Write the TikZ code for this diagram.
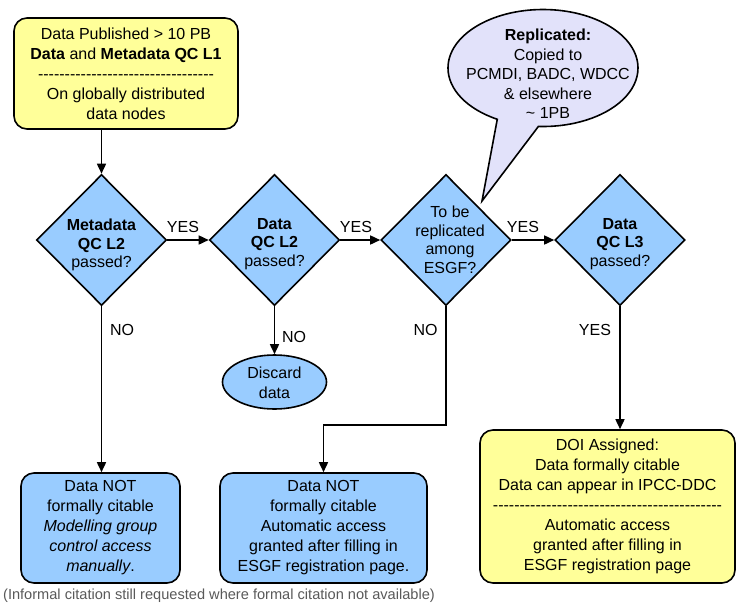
\documentclass[tikz,border=0pt]{standalone}
\usepackage{fontspec}
\setmainfont{Liberation Sans}
\usetikzlibrary{shapes.geometric,shapes.callouts,arrows.meta}
\definecolor{boxyellow}{HTML}{FFFF99}
\definecolor{boxblue}{HTML}{99CCFF}
\definecolor{lav}{HTML}{E2E2FA}
\newcommand\hyrow[1]{\foreach \i in {1,...,#1}{-\kern0pt}}
\begin{document}
\begin{tikzpicture}[x=1pt,y=-1pt,
  txt/.style={align=center,font=\fontsize{16}{20}\selectfont,inner sep=0pt},
  dtxt/.style={align=center,font=\fontsize{16}{18.5}\selectfont,inner sep=0pt},
  ybox/.style={draw,line width=1.6pt,rounded corners=13pt,fill=boxyellow},
  bbox/.style={draw,line width=1.6pt,rounded corners=13pt,fill=boxblue},
  dia/.style={draw,line width=1.6pt,diamond,fill=boxblue,minimum width=130pt,minimum height=131pt,inner sep=0pt},
  conn/.style={line width=1.6pt,-{Triangle[length=10pt,width=9pt]}},
  lab/.style={font=\fontsize{16}{20}\selectfont,inner sep=0pt}
]
\useasboundingbox (0,0) rectangle (737,603);

% top box
\node[ybox,txt,minimum width=224pt,minimum height=111pt] (top) at (126,73.5)
  {Data Published > 10 PB\\\textbf{Data} and \textbf{Metadata QC L1}\\\hyrow{33}\\On globally distributed\\data nodes};

% callout
\coordinate (tip) at (482,201);
\node[ellipse callout,draw,line width=1.6pt,fill=lav,minimum width=190pt,minimum height=117pt,
  inner sep=0pt,callout absolute pointer=(tip),callout pointer arc=26] (rep) at (543,68) {};
\node[txt,font=\fontsize{16}{19.5}\selectfont] (reptxt) at (548,74)
  {\textbf{Replicated:}\\Copied to\\PCMDI, BADC, WDCC\\\& elsewhere\\\textasciitilde\ 1PB};

% diamonds
\node[dia] (d1) at (101.5,240) {};
\node[dtxt] (t1) at (101.5,245) {\textbf{Metadata}\\\textbf{QC L2}\\passed?};
\node[dia] (d2) at (274.5,240) {};
\node[dtxt] (t2) at (274.5,244) {\textbf{Data}\\\textbf{QC L2}\\passed?};
\node[dia] (d3) at (446,240) {};
\node[dtxt] (t3) at (450,240) {To be\\replicated\\among\\ESGF?};
\node[dia] (d4) at (620,240) {};
\node[dtxt] (t4) at (620,244) {\textbf{Data}\\\textbf{QC L3}\\passed?};

% discard
\node[draw,ellipse,line width=1.6pt,fill=boxblue,minimum width=104pt,minimum height=54pt,inner sep=0pt] (disc) at (274.5,382) {};
\node[txt] (disctxt) at (274.5,383) {Discard\\data};

% bottom boxes
\node[bbox,txt,minimum width=159pt,minimum height=110pt] (bl) at (100.5,528)
  {Data NOT\\formally citable\\\textit{Modelling group}\\\textit{control access}\\\textit{manually}.};
\node[bbox,txt,minimum width=207pt,minimum height=110pt] (bm) at (323.5,528)
  {Data NOT\\formally citable\\Automatic access\\granted after filling in\\ESGF registration page.};
\node[ybox,txt,minimum width=255pt,minimum height=153pt] (br) at (607.5,506.5)
  {DOI Assigned:\\Data formally citable\\Data can appear in IPCC-DDC\\\hyrow{43}\\Automatic access\\granted after filling in\\ESGF registration page};

% connectors
\draw[conn] (d1.north |- top.south) -- (d1.north);
\draw[conn] (d1.east) -- (d2.west);
\draw[conn] (d2.east) -- (d3.west);
\draw[conn] (d3.east) -- (d4.west);
\draw[conn] (d1.south) -- (d1.south |- bl.north);
\draw[conn] (d2.south) -- (disc.north);
\coordinate (bend) at (323.5,425);
\draw[conn] (d3.south) |- (bend) -- (bm.north);
\draw[conn] (d4.south) -- (d4.south |- br.north);

% labels
\node[lab] (y1) at (183,227) {YES};
\node[lab] (y2) at (356,227) {YES};
\node[lab] (y3) at (523,227) {YES};
\node[lab] (n1) at (122,330) {NO};
\node[lab] (n2) at (294,337) {NO};
\node[lab] (n3) at (425.5,330) {NO};
\node[lab] (y4) at (595,330) {YES};

% footnote
\node[font=\fontsize{14.6}{16}\selectfont,text=black!65,inner sep=0pt] (note) at (219,596)
  {(Informal citation still requested where formal citation not available)};
\end{tikzpicture}
\end{document}
